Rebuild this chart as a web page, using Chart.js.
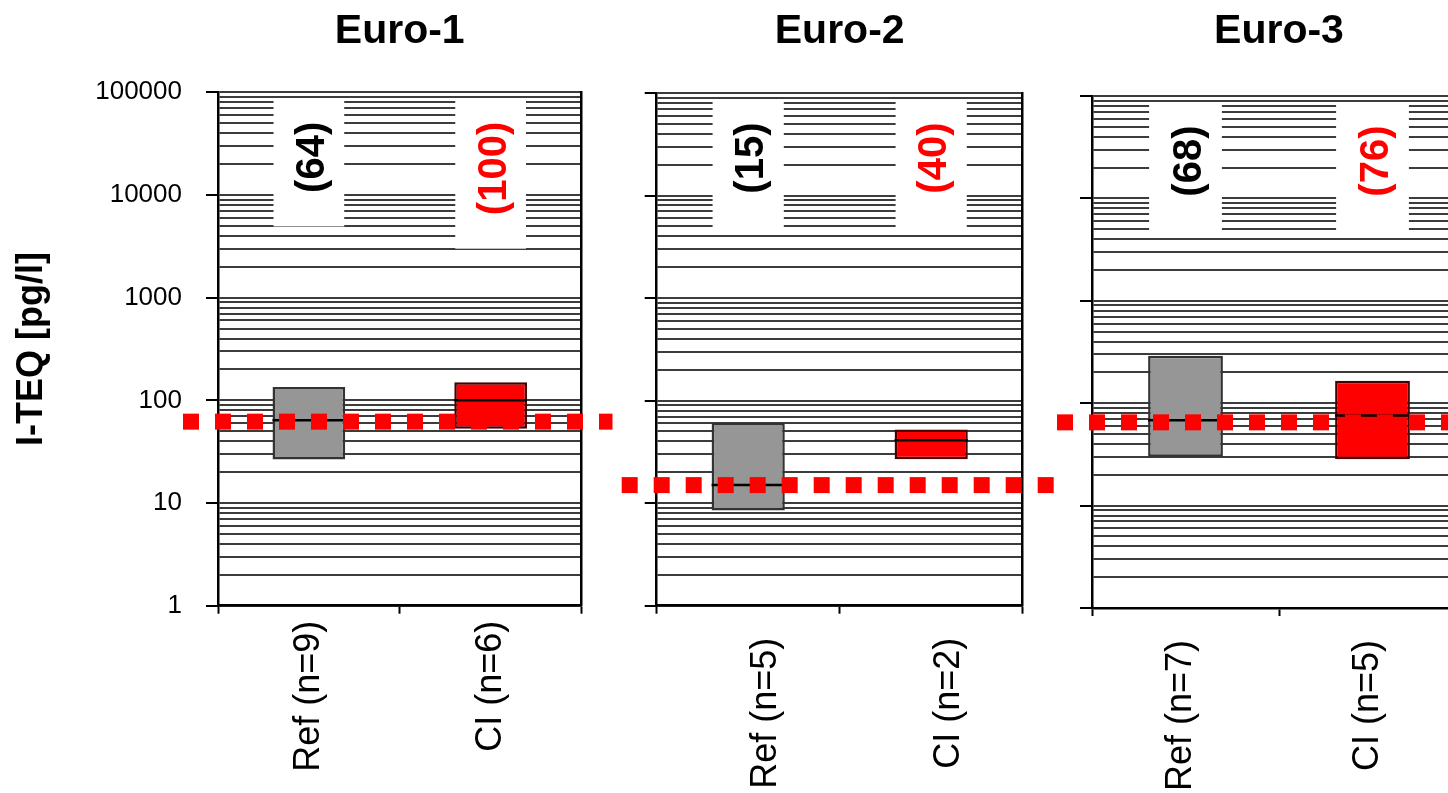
<!DOCTYPE html>
<html><head><meta charset="utf-8">
<script src="https://cdn.jsdelivr.net/npm/chart.js@4.4.1/dist/chart.umd.min.js"></script>
<style>
html,body{margin:0;padding:0;background:#fff;overflow:hidden;width:1448px;height:793px;position:relative;}
canvas{position:absolute;top:0;}
</style></head><body>
<canvas id="c1" width="615" height="793" style="left:0px"></canvas>
<canvas id="c2" width="440" height="793" style="left:615px"></canvas>
<canvas id="c3" width="440" height="793" style="left:1055px"></canvas>
<script>
// ---- data ----
const panelTitles = ['Euro-1', 'Euro-2', 'Euro-3'];
const euro1Categories = ['Ref (n=9)', 'CI (n=6)'];
const euro2Categories = ['Ref (n=5)', 'CI (n=2)'];
const euro3Categories = ['Ref (n=7)', 'CI (n=5)'];
const euro1Low = [26.6, 53];   const euro1High = [135, 150]; const euro1Median = [64, 100];
const euro2Low = [8.5, 26.8];  const euro2High = [60.5, 52.3]; const euro2Median = [15, 41];
const euro3Low = [30, 28.3];   const euro3High = [290, 166]; const euro3Median = [68, 76];
const euro1Texts = ['(64)', '(100)'];
const euro2Texts = ['(15)', '(40)'];
const euro3Texts = ['(68)', '(76)'];
const referenceLevels = [62, 15, 65];
const yTickLabels = [1, 10, 100, 1000, 10000, 100000];
const yAxisTitle = 'I-TEQ [pg/l]';

// ---- styling ----
const FONT = 'Arial, "Liberation Sans", Helvetica, sans-serif';
Chart.defaults.font.family = FONT;
Chart.defaults.color = '#000';
const barFill = ['#969696', '#ff0000'];
const barEdge = ['#333333', '#4a0000'];
const textColors = ['#000000', '#ff0000'];

// minor log grid positions (1..9 per decade)
const gridValues = [];
for (let d = 0; d < yTickLabels.length - 1; d++) {
  for (let k = 1; k < 10; k++) gridValues.push(k * yTickLabels[d]);
}
gridValues.push(yTickLabels[yTickLabels.length - 1]);
const isMajor = v => yTickLabels.some(t => Math.abs(t - v) < 1e-9 * t);

function makeChart(id, title, cats, low, high, med, texts, refLevel, g) {
  const overlay = {
    id: 'overlay' + id,
    beforeDatasetsDraw(chart) {
      const ctx = chart.ctx, top = chart.chartArea.top;
      const meta = chart.getDatasetMeta(0);
      ctx.save();
      ctx.font = 'bold 40px ' + FONT;
      meta.data.forEach((bar, i) => {
        const tw = ctx.measureText(texts[i]).width;
        const h = tw + 56, w = bar.width - 2;
        ctx.fillStyle = '#ffffff';
        ctx.fillRect(bar.x - w / 2, top + 7, w, h);
        ctx.save();
        ctx.translate(bar.x + 4, top + 7 + h / 2 - 5.5);
        ctx.rotate(-Math.PI / 2);
        ctx.fillStyle = textColors[i];
        ctx.textAlign = 'center';
        ctx.textBaseline = 'middle';
        ctx.fillText(texts[i], 0, 0);
        ctx.restore();
      });
      ctx.restore();
    },
    afterDatasetsDraw(chart) {
      const ctx = chart.ctx, ys = chart.scales.y, area = chart.chartArea;
      const meta = chart.getDatasetMeta(0);
      ctx.save();
      ctx.strokeStyle = '#000';
      ctx.lineWidth = 2.5;
      meta.data.forEach((bar, i) => {
        const y = ys.getPixelForValue(med[i]);
        ctx.beginPath();
        ctx.moveTo(bar.x - bar.width / 2, y);
        ctx.lineTo(bar.x + bar.width / 2, y);
        ctx.stroke();
      });
      const yr = ys.getPixelForValue(refLevel);
      ctx.strokeStyle = '#ff0000';
      ctx.lineWidth = 16;
      ctx.lineCap = 'butt';
      ctx.setLineDash([16, 16]);
      ctx.beginPath();
      ctx.moveTo(area.left - 35, yr);
      ctx.lineTo(area.right + 31, yr);
      ctx.stroke();
      ctx.restore();
    }
  };

  return new Chart(document.getElementById(id), {
    type: 'bar',
    data: {
      labels: cats,
      datasets: [{
        data: low.map((l, i) => [l, high[i]]),
        backgroundColor: barFill,
        borderColor: barEdge,
        borderWidth: 2.5,
        borderSkipped: false,
        categoryPercentage: 1,
        barPercentage: 0.4
      }]
    },
    options: {
      responsive: false,
      devicePixelRatio: 1,
      animation: false,
      events: [],
      layout: { padding: { left: g.padL, right: g.padR, top: 0, bottom: 0 } },
      plugins: {
        legend: { display: false },
        tooltip: { enabled: false },
        title: {
          display: true, text: title, fullSize: false,
          font: { size: 41, weight: 'bold' }, color: '#000',
          padding: { top: 7, bottom: g.titlePadBottom }
        }
      },
      scales: {
        x: {
          type: 'category',
          offset: true,
          grid: { display: true, offset: true, drawOnChartArea: false, drawTicks: true, tickLength: 8, tickColor: '#000', tickWidth: 2 },
          border: { display: true, color: '#000', width: 2.5 },
          ticks: { font: { size: 36 }, color: '#000', minRotation: 90, maxRotation: 90, autoSkip: false, padding: g.xPad, labelOffset: g.labelOffset },
          afterFit: s => { s.height = g.xHeight; }
        },
        y: {
          type: 'logarithmic',
          position: 'left',
          min: 1, max: 100000,
          afterBuildTicks: s => { s.ticks = gridValues.map(v => ({ value: v })); },
          grid: {
            color: '#3c3c3c', lineWidth: 2, drawTicks: true, tickLength: 12, tickWidth: 2,
            tickColor: c => (c.tick && isMajor(c.tick.value)) ? '#000' : 'rgba(0,0,0,0)'
          },
          border: { display: true, color: '#000', width: 2.5 },
          ticks: {
            display: g.showY, autoSkip: false, font: { size: 26 }, color: '#000', padding: 24,
            callback: v => isMajor(v) ? String(v) : ''
          },
          title: {
            display: g.showY, text: yAxisTitle, color: '#000',
            font: { size: 36, weight: 'bold' }, padding: { top: 0, bottom: 0 }
          },
          afterFit: s => { s.width = g.yWidth; }
        },
        y2: {
          type: 'linear', position: 'right', display: true,
          grid: { display: false, drawTicks: false },
          ticks: { display: false },
          border: { display: true, color: '#000', width: 2.5 },
          afterFit: s => { s.width = 0; }
        }
      }
    },
    plugins: [overlay]
  });
}

makeChart('c1', panelTitles[0], euro1Categories, euro1Low, euro1High, euro1Median, euro1Texts, referenceLevels[0],
  { padL: 10, yWidth: 208, padR: 33.5, titlePadBottom: 36.1, xHeight: 187.3, xPad: 7, labelOffset: 0, showY: true });
makeChart('c2', panelTitles[1], euro2Categories, euro2Low, euro2High, euro2Median, euro2Texts, referenceLevels[1],
  { padL: 0, yWidth: 41.7, padR: 32.3, titlePadBottom: 36.8, xHeight: 187.3, xPad: 24, labelOffset: 18, showY: false });
makeChart('c3', panelTitles[2], euro3Categories, euro3Low, euro3High, euro3Median, euro3Texts, referenceLevels[2],
  { padL: 0, yWidth: 37, padR: 29, titlePadBottom: 39.8, xHeight: 185, xPad: 24, labelOffset: -4, showY: false });
</script>
</body></html>
